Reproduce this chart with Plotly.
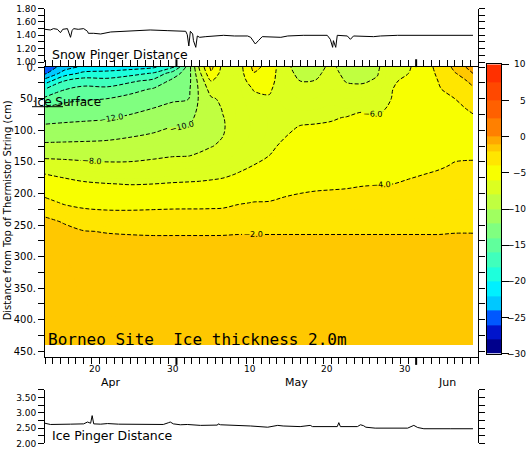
import plotly.graph_objects as go
import numpy as np

# ---------------- data ----------------
# time axis: days since 1 April 00:00 (30 = 1 May, 61 = 1 June)
days = [13.0, 15.5, 18, 21, 24, 27, 29.5, 31.5, 33, 34.5, 36, 38, 40, 42, 44,
        46, 48, 50, 52, 54, 56, 58, 60, 62, 64, 66, 68.35]
# depth below top of thermistor string (cm)
depths = [0, 10, 22, 35, 50, 65, 80, 95, 110, 125, 140, 155, 170, 185, 200,
          215, 230, 245, 260, 275, 300, 440]
# temperature profiles (deg C), one list per time column, top to bottom
profiles = [
    [-25.5, -24.3, -21.0, -18.0, -15.6, -13.85, -12.74, -11.67, -10.67, -9.6, -8.4, -7.17, -5.95, -5.18, -4.41, -3.44, -2.24, -1.75, -1.6, -1.55, -1.5, -1.45],
    [-23.0, -21.0, -18.0, -16.1, -14.5, -13.4, -12.5, -11.55, -10.6, -9.55, -8.45, -7.36, -6.29, -5.51, -4.84, -4.18, -3.19, -2.07, -1.75, -1.6, -1.5, -1.45],
    [-21.5, -19.5, -17.0, -15.4, -14.2, -13.2, -12.35, -11.45, -10.5, -9.53, -8.53, -7.56, -6.63, -5.78, -5.11, -4.44, -3.67, -2.67, -1.95, -1.7, -1.55, -1.45],
    [-21.0, -19.4, -17.23, -15.5, -14.0, -13.09, -12.18, -11.27, -10.36, -9.47, -8.59, -7.71, -6.82, -5.95, -5.26, -4.56, -3.82, -2.94, -2.06, -1.75, -1.6, -1.45],
    [-20.8, -18.75, -16.36, -14.63, -13.43, -12.57, -11.72, -10.89, -10.06, -9.28, -8.51, -7.72, -6.89, -6.06, -5.32, -4.59, -3.83, -2.97, -2.11, -1.8, -1.6, -1.45],
    [-20.3, -17.78, -15.43, -13.82, -12.91, -12.0, -11.23, -10.46, -9.71, -9.0, -8.29, -7.54, -6.77, -6.0, -5.27, -4.54, -3.78, -2.97, -2.16, -1.8, -1.6, -1.45],
    [-18.5, -15.0, -13.55, -12.95, -12.27, -11.54, -10.77, -10.0, -9.36, -8.72, -8.09, -7.37, -6.63, -5.9, -5.19, -4.48, -3.74, -2.95, -2.16, -1.8, -1.6, -1.45],
    [-13.2, -13.0, -12.8, -12.5, -12.1, -11.3, -10.6, -10.0, -9.35, -8.7, -8.05, -7.3, -6.55, -5.85, -5.15, -4.45, -3.74, -2.95, -2.16, -1.8, -1.6, -1.45],
    [-7.6, -8.4, -9.2, -9.6, -9.7, -9.6, -9.4, -9.1, -8.7, -8.3, -7.85, -7.2, -6.5, -5.8, -5.1, -4.45, -3.74, -2.95, -2.16, -1.8, -1.6, -1.45],
    [-3.5, -4.3, -6.0, -7.2, -8.2, -8.6, -8.7, -8.6, -8.4, -8.05, -7.6, -7.0, -6.4, -5.7, -5.05, -4.4, -3.74, -2.95, -2.16, -1.8, -1.6, -1.45],
    [-6.6, -6.9, -7.1, -7.4, -7.7, -7.9, -8.05, -8.1, -8.0, -7.8, -7.4, -6.9, -6.25, -5.6, -4.95, -4.35, -3.72, -2.95, -2.15, -1.8, -1.6, -1.45],
    [-7.0, -7.0, -7.1, -7.2, -7.3, -7.4, -7.4, -7.4, -7.3, -7.1, -6.8, -6.4, -5.9, -5.25, -4.65, -4.1, -3.5, -2.8, -2.1, -1.8, -1.6, -1.45],
    [-3.5, -4.1, -5.0, -5.9, -6.4, -6.7, -6.85, -6.9, -6.85, -6.7, -6.4, -6.0, -5.45, -4.95, -4.45, -3.95, -3.4, -2.75, -2.1, -1.8, -1.6, -1.45],
    [-4.6, -5.0, -5.4, -5.8, -6.15, -6.35, -6.45, -6.45, -6.35, -6.2, -6.0, -5.7, -5.3, -4.9, -4.5, -3.9, -3.3, -2.7, -2.1, -1.8, -1.6, -1.45],
    [-7.6, -7.4, -7.1, -6.9, -6.7, -6.5, -6.35, -6.2, -6.03, -5.8, -5.55, -5.25, -4.95, -4.6, -4.2, -3.65, -3.1, -2.6, -2.1, -1.8, -1.6, -1.45],
    [-8.6, -8.4, -8.0, -7.5, -7.0, -6.6, -6.25, -5.95, -5.7, -5.45, -5.2, -4.95, -4.7, -4.4, -4.0, -3.5, -3.0, -2.55, -2.1, -1.8, -1.6, -1.45],
    [-8.5, -8.3, -7.95, -7.45, -6.95, -6.55, -6.2, -5.9, -5.65, -5.4, -5.15, -4.9, -4.6, -4.3, -3.9, -3.45, -2.95, -2.5, -2.1, -1.8, -1.6, -1.45],
    [-7.7, -7.5, -7.3, -7.0, -6.7, -6.4, -6.1, -5.85, -5.6, -5.35, -5.1, -4.85, -4.55, -4.25, -3.85, -3.4, -2.95, -2.5, -2.1, -1.8, -1.6, -1.45],
    [-8.6, -8.4, -8.1, -7.6, -7.0, -6.5, -5.95, -5.7, -5.45, -5.25, -5.0, -4.75, -4.5, -4.2, -3.8, -3.35, -2.9, -2.45, -2.1, -1.8, -1.6, -1.45],
    [-8.8, -8.6, -8.2, -7.6, -6.9, -6.15, -5.8, -5.55, -5.35, -5.15, -4.95, -4.7, -4.45, -4.1, -3.7, -3.3, -2.85, -2.45, -2.1, -1.8, -1.6, -1.45],
    [-8.3, -8.1, -7.8, -7.3, -6.8, -6.3, -5.9, -5.6, -5.4, -5.2, -4.95, -4.7, -4.4, -4.05, -3.65, -3.25, -2.8, -2.4, -2.1, -1.8, -1.6, -1.45],
    [-6.2, -6.15, -6.1, -6.0, -5.9, -5.75, -5.6, -5.45, -5.3, -5.1, -4.9, -4.65, -4.35, -4.0, -3.6, -3.2, -2.8, -2.4, -2.1, -1.8, -1.6, -1.45],
    [-6.2, -6.0, -5.8, -5.6, -5.45, -5.3, -5.2, -5.1, -4.95, -4.8, -4.6, -4.4, -4.15, -3.85, -3.5, -3.15, -2.75, -2.4, -2.1, -1.8, -1.6, -1.45],
    [-5.0, -5.0, -5.0, -4.95, -4.9, -4.85, -4.8, -4.75, -4.65, -4.5, -4.35, -4.2, -4.0, -3.7, -3.4, -3.05, -2.7, -2.35, -2.1, -1.8, -1.6, -1.45],
    [-3.3, -3.6, -3.9, -4.1, -4.25, -4.35, -4.4, -4.4, -4.35, -4.3, -4.2, -4.1, -3.9, -3.6, -3.3, -3.0, -2.65, -2.35, -2.1, -1.8, -1.6, -1.45],
    [-1.6, -2.1, -2.8, -3.4, -4.0, -4.2, -4.3, -4.3, -4.25, -4.2, -4.1, -3.95, -3.75, -3.5, -3.2, -2.9, -2.6, -2.3, -2.05, -1.8, -1.6, -1.45],
    [-0.6, -1.0, -1.6, -2.2, -3.0, -3.85, -4.1, -4.15, -4.15, -4.1, -4.05, -3.95, -3.7, -3.45, -3.15, -2.85, -2.55, -2.25, -2.05, -1.8, -1.6, -1.45],
]

# snow pinger distance (m)
snow_days = [13.0, 13.7, 14.1, 14.6, 15.0, 15.3, 15.9, 16.3, 16.5, 16.7, 17.3, 18.0, 18.5, 18.6,
             19.3, 20.2, 21.5, 23.0, 24.4, 26.6, 28.8, 30.8, 31.2, 31.4, 31.6, 31.8, 32.1, 32.2,
             32.5, 32.7, 33.0, 33.8, 35.3, 36.1, 37.5, 39.2, 39.6, 40.2, 40.6, 41.1, 43.5, 44.4,
             46.4, 49.5, 49.9, 50.2, 50.3, 50.6, 50.8, 52.1, 52.5, 52.9, 55.5, 56.4, 58.6, 60.7,
             65.1, 67.1, 67.6, 68.35]
snow_vals = [1.49, 1.48, 1.50, 1.49, 1.44, 1.49, 1.50, 1.37, 1.47, 1.50, 1.49, 1.50, 1.46, 1.43,
             1.43, 1.42, 1.45, 1.46, 1.47, 1.48, 1.47, 1.47, 1.46, 1.41, 1.24, 1.46, 1.42, 1.32,
             1.22, 1.39, 1.37, 1.38, 1.39, 1.40, 1.39, 1.39, 1.37, 1.27, 1.32, 1.38, 1.37, 1.39,
             1.40, 1.40, 1.34, 1.22, 1.32, 1.22, 1.40, 1.39, 1.34, 1.39, 1.38, 1.39, 1.40, 1.40,
             1.40, 1.40, 1.41, 1.40]

# ice pinger distance (m)
ice_days = [13.0, 13.7, 16.3, 18.0, 18.5, 18.9, 19.1, 19.3, 20.2, 21.1, 22.5, 24.4, 26.6, 28.3,
            29.0, 29.2, 29.6, 30.5, 31.4, 33.1, 35.3, 35.4, 35.7, 37.4, 39.2, 39.6, 41.8, 43.1,
            43.8, 46.0, 47.3, 47.6, 50.8, 51.0, 51.2, 53.4, 53.8, 54.2, 54.5, 55.7, 59.9, 60.3,
            60.7, 61.2, 62.0, 65.4, 68.35]
ice_vals = [2.66, 2.62, 2.63, 2.64, 2.70, 2.66, 2.91, 2.64, 2.63, 2.65, 2.63, 2.62, 2.62, 2.62,
            2.68, 2.70, 2.64, 2.61, 2.62, 2.59, 2.60, 2.64, 2.61, 2.59, 2.59, 2.57, 2.53, 2.59,
            2.57, 2.55, 2.59, 2.55, 2.55, 2.68, 2.55, 2.55, 2.61, 2.58, 2.53, 2.50, 2.50, 2.55,
            2.59, 2.52, 2.48, 2.48, 2.48]

# colour levels
level_edges = [-30, -28, -26, -24, -22, -20, -18, -16, -14, -12, -10, -8, -6, -4, -2, -1, 0, 2.5, 5, 7.5, 10]
level_colors = ["#00008C", "#0014CC", "#0058FF", "#00C8FF", "#00F0FF", "#1EFFDC", "#40FFBC",
                "#60FF9C", "#80FF80", "#A0FF60", "#C0FF40", "#DCFF20", "#F8FF00", "#FFE600",
                "#FFC800", "#FFA800", "#FF8000", "#FF6000", "#FF4800", "#FF3000"]
cbar_labels = [10, 5, 0, -5, -10, -15, -20, -25, -30]

day_label_pos = [19.5, 29.5, 39.5, 49.5, 59.5]
day_label_txt = ["20", "30", "10", "20", "30"]
month_pos = [21.5, 45.5, 65.0]
month_txt = ["Apr", "May", "Jun"]
month_starts = [30, 61]

# ---------------- build ----------------
z = np.array(profiles).T  # rows = depth, cols = time

lo, hi = -30.25, 10.25
def tpos(v):
    return (v - lo) / (hi - lo)

cscale = []
n = len(level_colors)
for i, c in enumerate(level_colors):
    a = 0.0 if i == 0 else tpos(level_edges[i])
    b = 1.0 if i == n - 1 else tpos(level_edges[i + 1])
    cscale.append([a, c])
    cscale.append([b, c])

W, H = 528, 452
L = 45
PW = W - L
def px(X):
    return (X - L) / PW
def py(Y):
    return (H - Y) / H

fig = go.Figure()

fig.add_trace(go.Contour(
    x=days, y=depths, z=z, colorscale=cscale, showscale=False,
    autocontour=False,
    contours=dict(start=-30, end=10, size=0.5, coloring="fill", showlines=False),
    line=dict(width=0), hoverinfo="skip", xaxis="x", yaxis="y"))

dash = "4px,2px"
# cold isolines without labels
fig.add_trace(go.Contour(
    x=days, y=depths, z=z, showscale=False, autocontour=False,
    contours=dict(start=-28, end=-14, size=2, coloring="none"),
    line=dict(color="black", width=1, dash=dash), hoverinfo="skip",
    xaxis="x", yaxis="y"))
# labelled isolines
fig.add_trace(go.Contour(
    x=days, y=depths, z=z, showscale=False, autocontour=False,
    contours=dict(start=-12, end=-2, size=2, coloring="none", showlabels=True,
                  labelfont=dict(size=8, color="black", family="DejaVu Sans"),
                  labelformat=".1f"),
    line=dict(color="black", width=1, dash=dash), hoverinfo="skip",
    xaxis="x", yaxis="y"))
fig.add_trace(go.Contour(
    x=days, y=depths, z=z, showscale=False, autocontour=False,
    contours=dict(start=-1, end=-1, size=1, coloring="none"),
    line=dict(color="black", width=1, dash=dash), hoverinfo="skip",
    xaxis="x", yaxis="y"))

fig.add_trace(go.Scatter(x=snow_days, y=snow_vals, mode="lines",
                         line=dict(color="black", width=1), xaxis="x2", yaxis="y2",
                         hoverinfo="skip"))
fig.add_trace(go.Scatter(x=ice_days, y=ice_vals, mode="lines",
                         line=dict(color="black", width=1), xaxis="x3", yaxis="y3",
                         hoverinfo="skip"))

# colour bar built as a heatmap of the level cells
cell_mid = [[(level_edges[i] + level_edges[i + 1]) / 2] for i in range(n)]
fig.add_trace(go.Heatmap(x=[0], y=level_edges, z=cell_mid, colorscale=cscale,
                         zmin=lo, zmax=hi, showscale=False, hoverinfo="skip",
                         xaxis="x4", yaxis="y4"))

xdom = [0, px(478)]
axis_common = dict(showgrid=False, zeroline=False, linecolor="black", linewidth=1,
                   tickcolor="black", tickwidth=1)

mid_ticks = list(range(0, 451, 25))
mid_text = [(f"{v}." if v % 50 == 0 else "") for v in mid_ticks]
top_ticks = [round(1.0 + 0.1 * i, 2) for i in range(9)]
top_text = [(f"{v:.2f}" if i % 2 == 0 else "") for i, v in enumerate(top_ticks)]
bot_ticks = [round(2.0 + 0.25 * i, 2) for i in range(8)]
bot_text = [(f"{v:.2f}" if i % 2 == 0 else "") for i, v in enumerate(bot_ticks)]

fig.update_layout(
    width=W, height=H, margin=dict(l=L, r=0, t=0, b=0),
    paper_bgcolor="white", plot_bgcolor="white", showlegend=False,
    font=dict(family="DejaVu Sans", size=10, color="black"),
    xaxis=dict(domain=xdom, range=[13, 69], tickmode="array", tickvals=list(range(13, 70)),
               ticks="outside", ticklen=6, showticklabels=False, showline=True,
               mirror="ticks", anchor="y", **axis_common),
    yaxis=dict(domain=[py(360), py(63.5)], range=[459, 0], tickmode="array",
               tickvals=mid_ticks, ticktext=mid_text, ticks="outside", ticklen=6,
               showline=True, mirror="ticks", anchor="x",
               tickfont=dict(size=10), **axis_common),
    xaxis2=dict(domain=xdom, range=[13, 69], visible=False, anchor="y2"),
    yaxis2=dict(domain=[py(58.3), py(3.7)], range=[1.0, 1.8], tickmode="array",
                tickvals=top_ticks, ticktext=top_text, ticks="outside", ticklen=6,
                showline=True, mirror="ticks", anchor="x2",
                tickfont=dict(size=9), **axis_common),
    xaxis3=dict(domain=xdom, range=[13, 69], visible=False, anchor="y3"),
    yaxis3=dict(domain=[py(448.3), py(393.7)], range=[2.0, 3.75], tickmode="array",
                tickvals=bot_ticks, ticktext=bot_text, ticks="outside", ticklen=6,
                showline=True, mirror="ticks", anchor="x3",
                tickfont=dict(size=9), **axis_common),
    xaxis4=dict(domain=[px(487), px(501)], range=[-0.5, 0.5], showline=True, mirror=True,
                ticks="", showticklabels=False, anchor="y4", fixedrange=True, **axis_common),
    yaxis4=dict(domain=[py(356.7), py(60.7)], range=[-30, 10], side="right",
                tickmode="array", tickvals=cbar_labels, ticks="outside", ticklen=7,
                showticklabels=False, showline=True, mirror=True, anchor="x4",
                **axis_common),
)

ann = []
for xv, tx in zip(day_label_pos, day_label_txt):
    ann.append(dict(x=xv, y=py(372), xref="x", yref="paper", text=tx, showarrow=False,
                    font=dict(size=9), xanchor="center", yanchor="middle"))
for xv, tx in zip(month_pos, month_txt):
    ann.append(dict(x=xv, y=py(386), xref="x", yref="paper", text=tx, showarrow=False,
                    font=dict(size=11), xanchor="center", yanchor="middle"))
for v in cbar_labels:
    ann.append(dict(x=1.0, y=v, xref="paper", yref="y4",
                    text=(str(v) if v >= 0 else "\u2212" + str(-v)), showarrow=False,
                    font=dict(size=9), xanchor="right", yanchor="middle"))
ann.append(dict(x=px(50), y=py(51), xref="paper", yref="paper", text="Snow Pinger Distance",
                showarrow=False, font=dict(size=12.5), xanchor="left", yanchor="middle"))
ann.append(dict(x=px(50), y=py(440), xref="paper", yref="paper", text="Ice Pinger Distance",
                showarrow=False, font=dict(size=12.5), xanchor="left", yanchor="middle"))
ann.append(dict(x=px(46), y=py(342), xref="paper", yref="paper",
                text="Borneo Site\u00a0\u00a0Ice thickness 2.0m",
                showarrow=False, font=dict(size=16, family="DejaVu Sans Mono"),
                xanchor="left", yanchor="middle"))
ann.append(dict(x=px(32), y=py(99), xref="paper", yref="paper", text="Ice Surface",
                showarrow=False, font=dict(size=12), xanchor="left", yanchor="middle"))
ann.append(dict(x=px(7), y=py(210), xref="paper", yref="paper",
                text="Distance from Top of Thermistor String (cm)", textangle=-90,
                showarrow=False, font=dict(size=10), xanchor="center", yanchor="middle"))
fig.update_layout(annotations=ann)

shapes = [dict(type="line", xref="paper", yref="paper", x0=px(32), x1=px(63),
               y0=py(104), y1=py(104), line=dict(color="black", width=1))]
for m in month_starts:
    shapes.append(dict(type="line", xref="x", yref="paper", x0=m, x1=m,
                       y0=py(360), y1=py(368), line=dict(color="black", width=2)))
    shapes.append(dict(type="line", xref="x", yref="paper", x0=m, x1=m,
                       y0=py(63.5), y1=py(55.5), line=dict(color="black", width=2)))
fig.update_layout(shapes=shapes)

fig.write_html("out.html")
